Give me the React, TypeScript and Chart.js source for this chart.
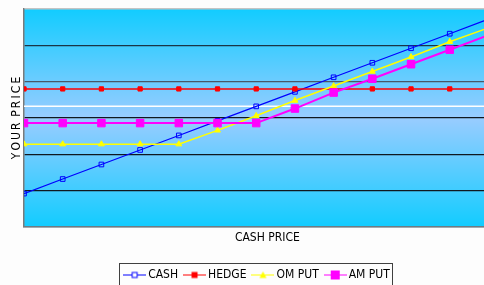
import { useEffect, useRef } from 'react';
import { Chart, registerables } from 'chart.js';
Chart.register(...registerables);

// ---- data ----
const CASH_PRICE = [1.96, 2.16, 2.36, 2.56, 2.76, 2.96, 3.16, 3.36, 3.56, 3.76, 3.96, 4.16, 4.36];
const CASH = [1.96, 2.16, 2.36, 2.56, 2.76, 2.96, 3.16, 3.36, 3.56, 3.76, 3.96, 4.16, 4.36];
const HEDGE = [3.4, 3.4, 3.4, 3.4, 3.4, 3.4, 3.4, 3.4, 3.4, 3.4, 3.4, 3.4, 3.4];
const OM_PUT = [2.64, 2.64, 2.64, 2.64, 2.64, 2.83, 3.03, 3.24, 3.44, 3.64, 3.84, 4.05, 4.24];
const AM_PUT = [2.93, 2.93, 2.93, 2.93, 2.93, 2.93, 2.93, 3.13, 3.35, 3.54, 3.74, 3.94, 4.14];
const REF_LINE = [3.16, 3.16, 3.16, 3.16, 3.16, 3.16, 3.16, 3.16, 3.16, 3.16, 3.16, 3.16, 3.16];
const SERIES_NAMES = ['CASH', 'HEDGE', 'OM PUT', 'AM PUT'];
const Y_TICKS = [1.5, 2.0, 2.5, 3.0, 3.5, 4.0, 4.5];
const X_RANGE = [1.96, 4.475];
const X_TITLE = 'CASH PRICE';
const Y_TITLE = 'Y\u2009O\u2009U\u2009R \u2009P\u2009R\u2009I\u2009C\u2009E';

const FONT = "'Liberation Sans Narrow', 'Arial Narrow', 'DejaVu Sans Condensed', sans-serif";

const pts = (ys: number[]) => ys.map((y, i) => ({ x: CASH_PRICE[i], y }));

function makeIcon(kind: string, color: string) {
  const c = document.createElement('canvas');
  c.width = 23;
  c.height = 13;
  const g = c.getContext('2d')!;
  g.strokeStyle = color;
  g.lineWidth = 1;
  g.beginPath();
  g.moveTo(0, 6.5);
  g.lineTo(23, 6.5);
  g.stroke();
  const cx = 11.5, cy = 6.5;
  g.fillStyle = color;
  if (kind === 'hollow') {
    g.fillStyle = '#ffffff';
    g.fillRect(cx - 2.5, cy - 2.5, 5, 5);
    g.strokeRect(cx - 2.5, cy - 2.5, 5, 5);
  } else if (kind === 'square') {
    g.fillRect(cx - 3, cy - 3, 6, 6);
  } else if (kind === 'triangle') {
    g.beginPath();
    g.moveTo(cx, cy - 3.5);
    g.lineTo(cx + 3.5, cy + 3);
    g.lineTo(cx - 3.5, cy + 3);
    g.closePath();
    g.fill();
  } else {
    g.fillRect(cx - 4.5, cy - 4.5, 9, 9);
  }
  return c;
}

const bgPlugin = {
  id: 'plotBg',
  beforeDraw(chart: any) {
    const { ctx, chartArea: a } = chart;
    const grad = ctx.createLinearGradient(0, a.top, 0, a.bottom);
    grad.addColorStop(0, '#12ccff');
    grad.addColorStop(0.5, '#99ccff');
    grad.addColorStop(1, '#12ccff');
    ctx.save();
    ctx.fillStyle = grad;
    ctx.fillRect(a.left, a.top, a.right - a.left, a.bottom - a.top);
    ctx.restore();
  },
};

const legendBoxPlugin = {
  id: 'legendBox',
  afterDraw(chart: any) {
    const hb = chart.legend?.legendHitBoxes;
    if (!hb || !hb.length) return;
    const last = hb[hb.length - 1];
    const left = Math.round(hb[0].left - 8) + 0.5;
    const right = Math.round(last.left + last.width + 2) + 0.5;
    const top = Math.round(hb[0].top - 6) + 0.5;
    const bottom = Math.round(hb[0].top + hb[0].height + 6) + 0.5;
    const ctx = chart.ctx;
    ctx.save();
    ctx.strokeStyle = '#404040';
    ctx.lineWidth = 1;
    ctx.strokeRect(left, top, right - left, bottom - top);
    ctx.restore();
  },
};

export default function App() {
  const ref = useRef<HTMLCanvasElement>(null);
  useEffect(() => {
    if (!ref.current) return;
    const icons = [
      makeIcon('hollow', '#0000ff'),
      makeIcon('square', '#ff0000'),
      makeIcon('triangle', '#ffff00'),
      makeIcon('big', '#ff00ff'),
    ];
    const gridColor = (v: number) => {
      const r = Math.round(v * 100);
      if (r === 450) return '#c4c4c4';
      if (r === 150) return '#6e7c84';
      if (r === 350) return '#4a5866';
      if (r === 400) return '#1a3446';
      return '#101820';
    };
    const chart = new Chart(ref.current, {
      type: 'line',
      data: {
        datasets: [
          {
            label: SERIES_NAMES[0], data: pts(CASH), borderColor: '#0000ff', borderWidth: 1.2,
            pointStyle: 'rect', pointRadius: 3.3, pointBorderWidth: 1, pointBorderColor: '#0000ff',
            pointBackgroundColor: 'rgba(0,0,0,0)', order: 4,
          },
          {
            label: SERIES_NAMES[1], data: pts(HEDGE), borderColor: '#ff0000', borderWidth: 1.6,
            pointStyle: 'rect', pointRadius: 3, pointBorderWidth: 1, pointBorderColor: '#ff0000',
            pointBackgroundColor: '#ff0000', order: 3,
          },
          {
            label: SERIES_NAMES[2], data: pts(OM_PUT), borderColor: '#ffff00', borderWidth: 1.5,
            pointStyle: 'triangle', pointRadius: 3.4, pointBorderWidth: 1, pointBorderColor: '#ffff00',
            pointBackgroundColor: '#ffff00', order: 2,
          },
          {
            label: SERIES_NAMES[3], data: pts(AM_PUT), borderColor: '#ff00ff', borderWidth: 2,
            pointStyle: 'rect', pointRadius: 5.3, pointBorderWidth: 1, pointBorderColor: '#ff00ff',
            pointBackgroundColor: '#ff00ff', order: 1,
          },
          {
            label: '', data: pts(REF_LINE), borderColor: '#ffffff', borderWidth: 1.5,
            pointRadius: 0, order: 10,
          },
        ],
      },
      options: {
        responsive: false,
        animation: false,
        events: [],
        layout: { padding: { left: 0, right: 0, top: 9, bottom: 0 } },
        plugins: {
          tooltip: { enabled: false },
          legend: {
            position: 'bottom',
            labels: {
              usePointStyle: true,
              pointStyleWidth: 15,
              padding: 9,
              color: '#000000',
              font: { family: FONT, size: 12 },
              generateLabels: () =>
                SERIES_NAMES.map((name, i) => ({
                  text: name,
                  pointStyle: icons[i],
                  fillStyle: 'rgba(0,0,0,0)',
                  strokeStyle: 'rgba(0,0,0,0)',
                  lineWidth: 0,
                  hidden: false,
                  datasetIndex: i,
                  fontColor: '#000000',
                })) as any,
            },
          },
        },
        scales: {
          x: {
            type: 'linear',
            min: X_RANGE[0],
            max: X_RANGE[1],
            grid: { display: false, drawTicks: false },
            ticks: { display: false },
            border: { display: true, color: '#6e7c84', width: 1.5 },
            title: {
              display: true, text: X_TITLE, color: '#000000',
              font: { family: FONT, size: 12, lineHeight: 1 },
              padding: { top: 5, bottom: 16 },
            },
          },
          y: {
            min: Y_TICKS[0],
            max: Y_TICKS[Y_TICKS.length - 1],
            ticks: { display: false, stepSize: Y_TICKS[1] - Y_TICKS[0] },
            grid: {
              drawTicks: false,
              color: (c: any) => gridColor(c.tick?.value ?? 0),
              lineWidth: (c: any) => (Math.round((c.tick?.value ?? 0) * 100) === 450 ? 1.5 : 1.2),
            },
            border: { display: true, color: '#7a7a7a', width: 1.5 },
            title: {
              display: true, text: Y_TITLE, color: '#000000',
              font: { family: FONT, size: 12, lineHeight: 1 },
              padding: { top: 11, bottom: 1 },
            },
          },
        },
      },
      plugins: [bgPlugin, legendBoxPlugin],
    });
    return () => chart.destroy();
  }, []);
  return (
    <div style={{ position: 'absolute', left: 0, top: 0, width: 484, height: 285, overflow: 'hidden', background: '#fdfdfd' }}>
      <canvas ref={ref} width={517} height={291} style={{ width: 517, height: 291, display: 'block' }} />
    </div>
  );
}
